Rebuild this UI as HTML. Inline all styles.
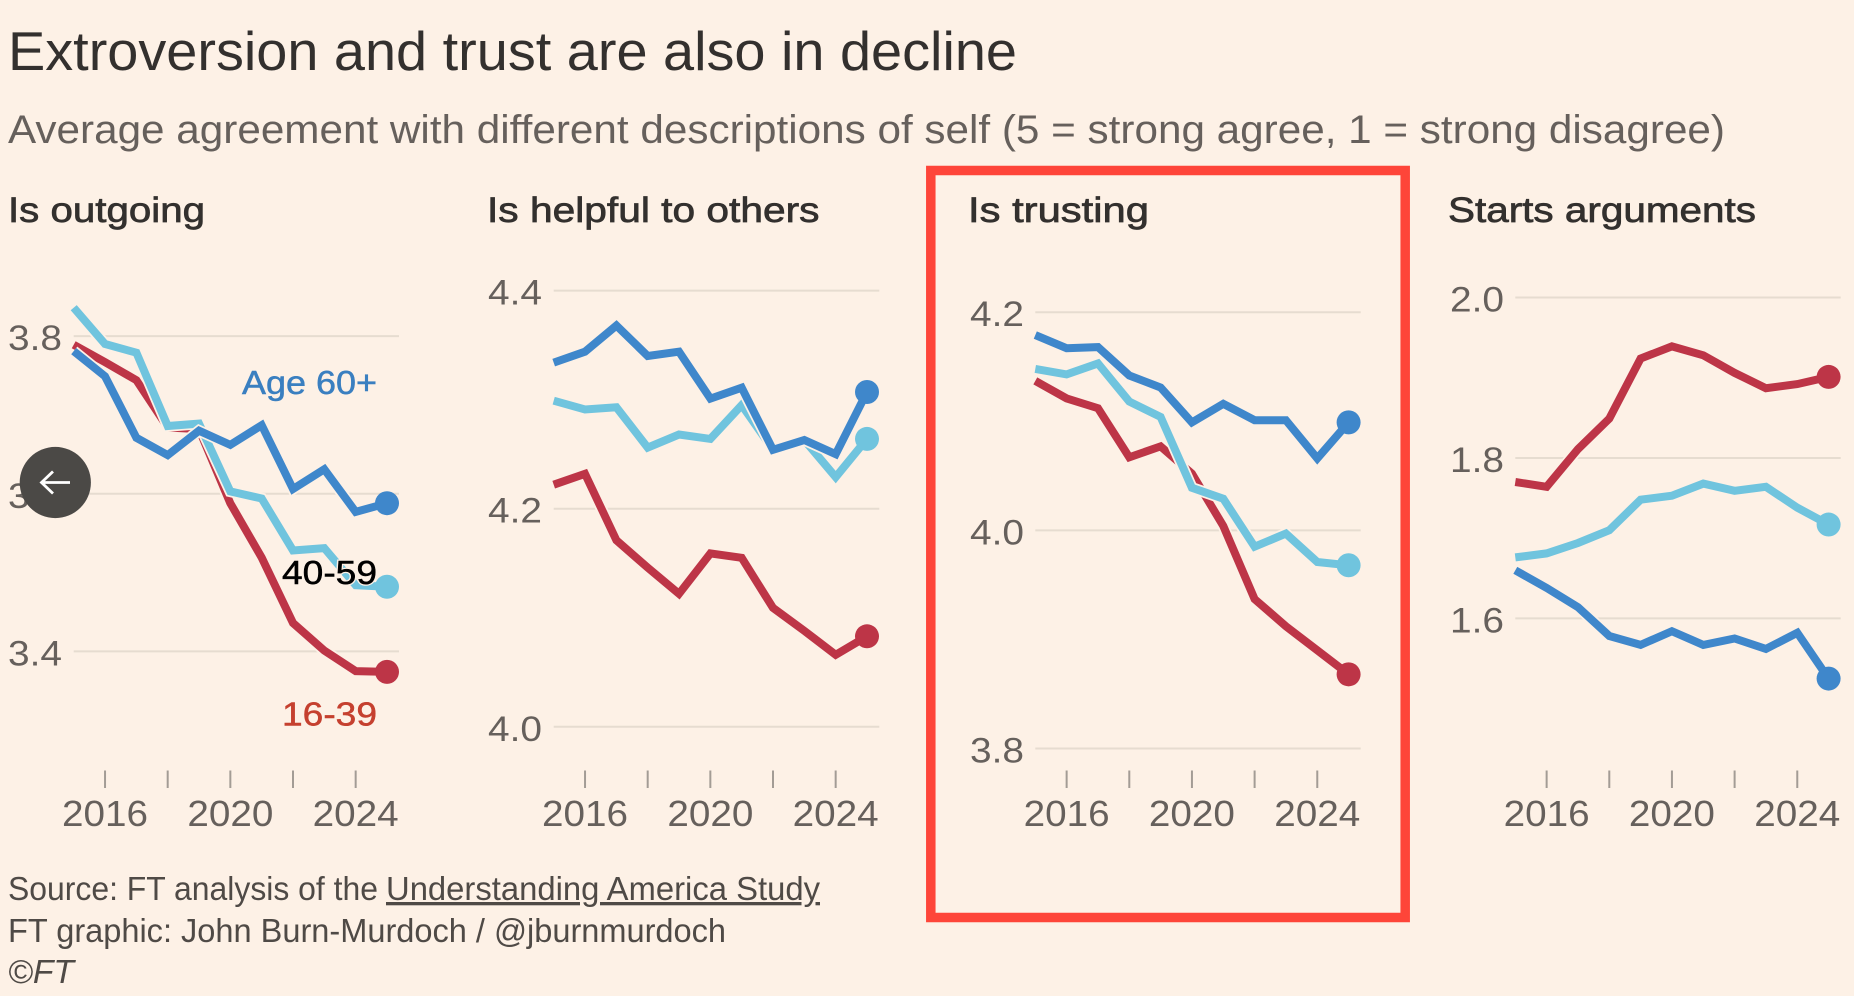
<!DOCTYPE html>
<html lang="en">
<head>
<meta charset="utf-8">
<title>Extroversion and trust are also in decline</title>
<style>
html,body{margin:0;padding:0;background:#fdf1e6;}
body{width:1854px;height:996px;overflow:hidden;}
svg{display:block;}
text{font-family:"Liberation Sans",sans-serif;}
</style>
</head>
<body>
<svg id="chart" xmlns="http://www.w3.org/2000/svg" width="1854" height="996" viewBox="0 0 1854 996">
  <rect x="0" y="0" width="1854" height="996" fill="#fdf1e6"/>
  <text x="8" y="70" font-size="55" fill="#33302e" textLength="1009" lengthAdjust="spacingAndGlyphs">Extroversion and trust are also in decline</text>
  <text x="8" y="143" font-size="40" fill="#66605c" textLength="1717" lengthAdjust="spacingAndGlyphs">Average agreement with different descriptions of self (5 = strong agree, 1 = strong disagree)</text>
  <g id="panels"></g>
  <rect x="930.8" y="170.5" width="474.4" height="747" fill="none" stroke="#fe4539" stroke-width="9.5"/>
  <text x="8" y="900" font-size="33" fill="#4f4a46" textLength="370" lengthAdjust="spacingAndGlyphs">Source: FT analysis of the</text>
  <text x="386" y="900" font-size="33" fill="#4f4a46" text-decoration="underline" textLength="434" lengthAdjust="spacingAndGlyphs">Understanding America Study</text>
  <text x="8" y="942" font-size="33" fill="#4f4a46" textLength="718" lengthAdjust="spacingAndGlyphs">FT graphic: John Burn-Murdoch / @jburnmurdoch</text>
  <text x="8" y="983" font-size="33" font-style="italic" fill="#4f4a46" textLength="66" lengthAdjust="spacingAndGlyphs">©FT</text>
  <g>
    <circle cx="55.3" cy="482.5" r="35.6" fill="#4b4946"/>
    <path d="M41.5 482.5H70M53 471.5L41.5 482.5L53 493.5" fill="none" stroke="#ffffff" stroke-width="2.8"/>
  </g>
</svg>
<script>
// ---- Chart data ----
const years = [2015, 2016, 2017, 2018, 2019, 2020, 2021, 2022, 2023, 2024, 2025];
const xTickYears = [2016, 2018, 2020, 2022, 2024];
const xLabelYears = [2016, 2020, 2024];

const outgoingTicks = ["3.8", "3.6", "3.4"];
const outgoing16to39 = [3.789, 3.767, 3.744, 3.684, 3.682, 3.588, 3.519, 3.436, 3.401, 3.375, 3.374];
const outgoing40to59 = [3.836, 3.790, 3.779, 3.686, 3.689, 3.603, 3.594, 3.528, 3.531, 3.484, 3.482];
const outgoing60plus = [3.781, 3.749, 3.671, 3.649, 3.680, 3.662, 3.687, 3.606, 3.631, 3.577, 3.588];

const helpfulTicks = ["4.4", "4.2", "4.0"];
const helpful16to39 = [4.222, 4.232, 4.171, 4.146, 4.122, 4.159, 4.155, 4.109, 4.088, 4.066, 4.083];
const helpful40to59 = [4.299, 4.291, 4.293, 4.256, 4.268, 4.264, 4.295, 4.254, 4.263, 4.229, 4.264];
const helpful60plus = [4.334, 4.344, 4.368, 4.340, 4.344, 4.301, 4.311, 4.254, 4.263, 4.250, 4.307];

const trustingTicks = ["4.2", "4.0", "3.8"];
const trusting16to39 = [4.137, 4.121, 4.112, 4.067, 4.077, 4.052, 4.004, 3.937, 3.912, 3.890, 3.868];
const trusting40to59 = [4.148, 4.143, 4.153, 4.118, 4.104, 4.039, 4.029, 3.985, 3.997, 3.971, 3.968];
const trusting60plus = [4.179, 4.167, 4.168, 4.142, 4.131, 4.099, 4.116, 4.101, 4.101, 4.066, 4.099];

const argumentsTicks = ["2.0", "1.8", "1.6"];
const arguments16to39 = [1.770, 1.764, 1.811, 1.849, 1.924, 1.939, 1.928, 1.906, 1.887, 1.892, 1.901];
const arguments40to59 = [1.676, 1.681, 1.694, 1.710, 1.748, 1.753, 1.768, 1.759, 1.764, 1.738, 1.717];
const arguments60plus = [1.660, 1.638, 1.614, 1.578, 1.567, 1.584, 1.567, 1.575, 1.562, 1.582, 1.525];

// ---- Layout ----
const SVGNS = "http://www.w3.org/2000/svg";
const BG = "#fdf1e6";
const COLOR_YOUNG = "#bd3547";
const COLOR_MID = "#70c4de";
const COLOR_OLD = "#3f87cb";

const panels = [
  { key: "outgoing", title: "Is outgoing", titleX: 8, titleW: 197, labelX: 8, x0: 73.7, gridEnd: 399,
    ticks: outgoingTicks, topY: 336.1, bottomY: 651.4, young: outgoing16to39, mid: outgoing40to59, old: outgoing60plus },
  { key: "helpful", title: "Is helpful to others", titleX: 487, titleW: 332.5, labelX: 488, x0: 553.7, gridEnd: 879.3,
    ticks: helpfulTicks, topY: 290.6, bottomY: 726.8, young: helpful16to39, mid: helpful40to59, old: helpful60plus },
  { key: "trusting", title: "Is trusting", titleX: 968, titleW: 181, labelX: 970, x0: 1035.3, gridEnd: 1360.7,
    ticks: trustingTicks, topY: 312.2, bottomY: 748.5, young: trusting16to39, mid: trusting40to59, old: trusting60plus },
  { key: "arguments", title: "Starts arguments", titleX: 1448, titleW: 308, labelX: 1450, x0: 1515.3, gridEnd: 1840.7,
    ticks: argumentsTicks, topY: 297.5, bottomY: 618.4, young: arguments16to39, mid: arguments40to59, old: arguments60plus }
];

const YEAR_PX = 31.33;
const root = document.getElementById("panels");

function svgEl(tag, attrs, parent) {
  const el = document.createElementNS(SVGNS, tag);
  for (const k in attrs) el.setAttribute(k, attrs[k]);
  parent.appendChild(el);
  return el;
}

function drawPanel(p) {
  const vTop = parseFloat(p.ticks[0]);
  const vBottom = parseFloat(p.ticks[p.ticks.length - 1]);
  const xScale = y => p.x0 + (y - years[0]) * YEAR_PX;
  const yScale = v => p.topY + (vTop - v) / (vTop - vBottom) * (p.bottomY - p.topY);

  const g = svgEl("g", {}, root);
  
  

  const title = svgEl("text", { x: p.titleX, y: 222, "font-size": 35, fill: "#33302e", stroke: "#33302e", "stroke-width": 0.7, textLength: p.titleW, lengthAdjust: "spacingAndGlyphs" }, g);
  
  
  title.textContent = p.title;

  p.ticks.forEach(t => {
    const v = parseFloat(t);
    const y = yScale(v);
    const grid = svgEl("line", { x1: p.x0, x2: p.gridEnd, y1: y, y2: y, stroke: "#e6dcd0", "stroke-width": 2 }, g);
    
    
    const label = svgEl("text", { x: p.labelX, y: y + 14, "font-size": 35, fill: "#66605c", textLength: 54, lengthAdjust: "spacingAndGlyphs" }, g);
    
    
    label.textContent = t;
  });

  xTickYears.forEach(yr => {
    const x = xScale(yr);
    const tick = svgEl("line", { x1: x, x2: x, y1: 770.5, y2: 788, stroke: "#a39c95", "stroke-width": 2 }, g);
    
    
  });
  xLabelYears.forEach(yr => {
    const label = svgEl("text", { x: xScale(yr), y: 826, "font-size": 36, fill: "#66605c", "text-anchor": "middle", textLength: 86, lengthAdjust: "spacingAndGlyphs" }, g);
    
    
    label.textContent = String(yr);
  });

  const series = [
    { name: "age-16-39", color: COLOR_YOUNG, values: p.young },
    { name: "age-40-59", color: COLOR_MID, values: p.mid },
    { name: "age-60-plus", color: COLOR_OLD, values: p.old }
  ];
  series.forEach(s => {
    const pts = s.values.map((v, i) => xScale(years[i]).toFixed(1) + "," + yScale(v).toFixed(1)).join(" ");
    const halo = svgEl("polyline", { points: pts, fill: "none", stroke: BG, "stroke-width": 11.5, "stroke-linejoin": "miter" }, g);
    
    
    const line = svgEl("polyline", { points: pts, fill: "none", stroke: s.color, "stroke-width": 8, "stroke-linejoin": "miter" }, g);
    
    
    const last = s.values.length - 1;
    const dot = svgEl("circle", { cx: xScale(years[last]), cy: yScale(s.values[last]), r: 12, fill: s.color }, g);
    
    
  });

  if (p.key === "outgoing") {
    const l1 = svgEl("text", { x: 242, y: 394, "font-size": 33, fill: "#3a7fc0", stroke: "#3a7fc0", "stroke-width": 0.5, textLength: 135, lengthAdjust: "spacingAndGlyphs" }, g);
    
    
    l1.textContent = "Age 60+";
    const halo = svgEl("text", { x: 282, y: 584, "font-size": 33, fill: BG, stroke: BG, "stroke-width": 3, textLength: 95, lengthAdjust: "spacingAndGlyphs" }, g);
    
    
    halo.textContent = "40-59";
    const l2 = svgEl("text", { x: 282, y: 584, "font-size": 33, fill: "#000000", stroke: "#000000", "stroke-width": 0.5, textLength: 95, lengthAdjust: "spacingAndGlyphs" }, g);
    
    
    l2.textContent = "40-59";
    const l3 = svgEl("text", { x: 282, y: 725.5, "font-size": 33, fill: "#c5402f", stroke: "#c5402f", "stroke-width": 0.5, textLength: 95, lengthAdjust: "spacingAndGlyphs" }, g);
    
    
    l3.textContent = "16-39";
  }
}

panels.forEach(drawPanel);
</script>
</body>
</html>
